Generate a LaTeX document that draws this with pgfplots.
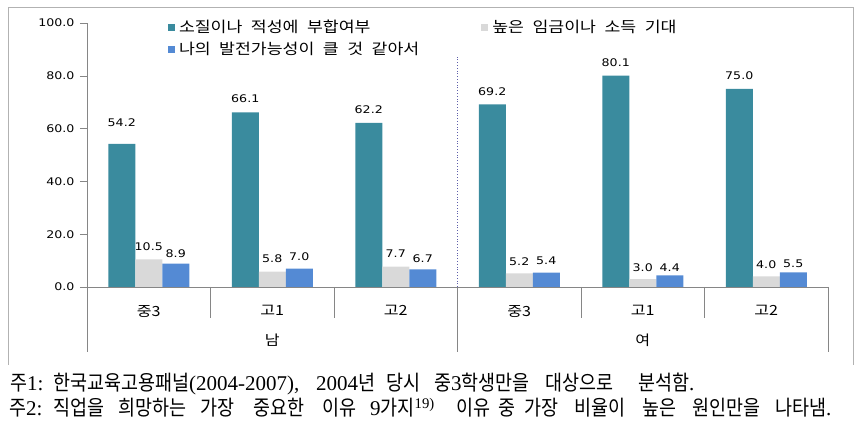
\documentclass[border=0pt]{standalone}
\usepackage{fontspec}
\setmainfont{Noto Sans CJK KR}
\newfontfamily\numfont{DejaVu Sans}[FakeStretch=1.2]
\newfontfamily\notefont{Noto Sans CJK KR}[FakeStretch=0.88]
\newfontfamily\lgfont{Noto Sans CJK KR}[FakeStretch=1.15, WordSpace=2.2]
\newfontfamily\nd{Liberation Serif}
\usepackage{pgfplots}
\usepackage{pgfplotstable}
\pgfplotsset{compat=1.18}
\pgfplotsset{sqlegend/.style={legend image code/.code={\fill[##1] (0pt,-3.5pt) rectangle (7pt,3.5pt); \path (9pt,0pt);}}}
\definecolor{cteal}{RGB}{58,139,158}
\definecolor{cgray}{RGB}{217,217,217}
\definecolor{cblue}{RGB}{84,138,212}
\definecolor{caxis}{RGB}{134,134,134}
\newcommand\fw[3]{\node[anchor=base west, inner sep=0pt, font=\notefont\fontsize{21}{23}\selectfont] at (#1,#2) {#3};}
\pgfplotstableread{
x y dy
0 54.2 17
1 66.1 10
2 62.2 9
3 69.2 9
4 80.1 9
5 75.0 9
}\tA
\pgfplotstableread{
x y dy
0 10.5 9
1 5.8 9
2 7.7 9
3 5.2 8
4 3.0 8
5 4.0 8
}\tB
\pgfplotstableread{
x y dy
0 8.9 6
1 7.0 8
2 6.7 7
3 5.4 8
4 4.4 4
5 5.5 5
}\tC
\begin{document}
\begin{tikzpicture}[x=1pt,y=1pt]
\useasboundingbox (0,0) rectangle (861,425);
\draw[gray!60] (8,60) -- (8,418) -- (853,418) -- (853,60);
\begin{axis}[
  at={(87pt,138pt)}, anchor=south west,
  scale only axis, width=741pt, height=264pt,
  xmin=-0.5, xmax=5.5, ymin=0, ymax=100,
  axis lines*=left,
  axis line style={draw=caxis},
  ybar, bar width=27pt,
  clip=false,
  ytick={0,20,...,100},
  xtick={0,...,5},
  xticklabels={중3,고1,고2,중3,고1,고2},
  x tick style={draw=none},
  y tick style={draw=caxis},
  tick align=outside, major tick length=7pt,
  yticklabel style={font=\numfont\fontsize{10.5}{12}\selectfont, xshift=-2pt, /pgf/number format/.cd, fixed, fixed zerofill, precision=1, assume math mode=true},
  xticklabel style={font=\lgfont\fontsize{14}{15}\selectfont, yshift=-8pt},
  nodes near coords={\pgfmathprintnumber[fixed,fixed zerofill,precision=1,assume math mode=true]{\pgfplotspointmeta}},
  visualization depends on={\thisrow{dy}\as\dy},
  every node near coord/.append style={font=\numfont\fontsize{10.5}{12}\selectfont, anchor=base, inner sep=0pt, yshift=\dy pt},
  legend style={at={(0.105,1.027)}, anchor=north west, draw=none, fill=none, font=\lgfont\fontsize{15}{16}\selectfont, /tikz/every even column/.append style={column sep=60pt}, row sep=4pt},
  legend columns=2, legend cell align=left,
]
\addplot[fill=cteal, draw=none, bar shift=-27pt, sqlegend] table[x=x,y=y] {\tA};
\addlegendentry{소질이나 적성에 부합여부}
\addplot[fill=cgray, draw=none, bar shift=0pt, sqlegend] table[x=x,y=y] {\tB};
\addlegendentry{높은 임금이나 소득 기대}
\addplot[fill=cblue, draw=none, bar shift=27pt, sqlegend] table[x=x,y=y] {\tC};
\addlegendentry{나의 발전가능성이 클 것 같아서}
\draw[caxis] (axis cs:0.5,0) -- ([yshift=-31pt]axis cs:0.5,0);
\draw[caxis] (axis cs:1.5,0) -- ([yshift=-31pt]axis cs:1.5,0);
\draw[caxis] (axis cs:3.5,0) -- ([yshift=-31pt]axis cs:3.5,0);
\draw[caxis] (axis cs:4.5,0) -- ([yshift=-31pt]axis cs:4.5,0);
\draw[caxis] (axis cs:-0.5,0) -- ([yshift=-65pt]axis cs:-0.5,0);
\draw[caxis] (axis cs:2.5,0) -- ([yshift=-65pt]axis cs:2.5,0);
\draw[caxis] (axis cs:5.5,0) -- ([yshift=-65pt]axis cs:5.5,0);
\draw[caxis!70!blue, dotted, thick] (axis cs:2.5,0) -- (axis cs:2.5,87.1);
\node[font=\lgfont\fontsize{14}{15}\selectfont] at (axis cs:1,0) [yshift=-53pt] {남};
\node[font=\lgfont\fontsize{14}{15}\selectfont] at (axis cs:4,0) [yshift=-53pt] {여};
\end{axis}
% footnote line 1
\fw{10}{34}{주{\nd 1:}}
\fw{53}{34}{한국교육고용패널{\nd (2004-2007),}}
\fw{316}{34}{{\nd 2004}년}
\fw{386}{34}{당시}
\fw{434}{34}{중{\nd 3}학생만을}
\fw{545}{34}{대상으로}
\fw{638}{34}{분석함{\nd .}}
% footnote line 2
\fw{9}{9}{주{\nd 2:}}
\fw{53}{9}{직업을}
\fw{118}{9}{희망하는}
\fw{200}{9}{가장}
\fw{253}{9}{중요한}
\fw{322}{9}{이유}
\fw{370}{9}{{\nd 9}가지\textsuperscript{\nd 19)}}
\fw{456}{9}{이유}
\fw{498}{9}{중}
\fw{524}{9}{가장}
\fw{574}{9}{비율이}
\fw{642}{9}{높은}
\fw{692}{9}{원인만을}
\fw{775}{9}{나타냄{\nd .}}
\end{tikzpicture}
\end{document}
